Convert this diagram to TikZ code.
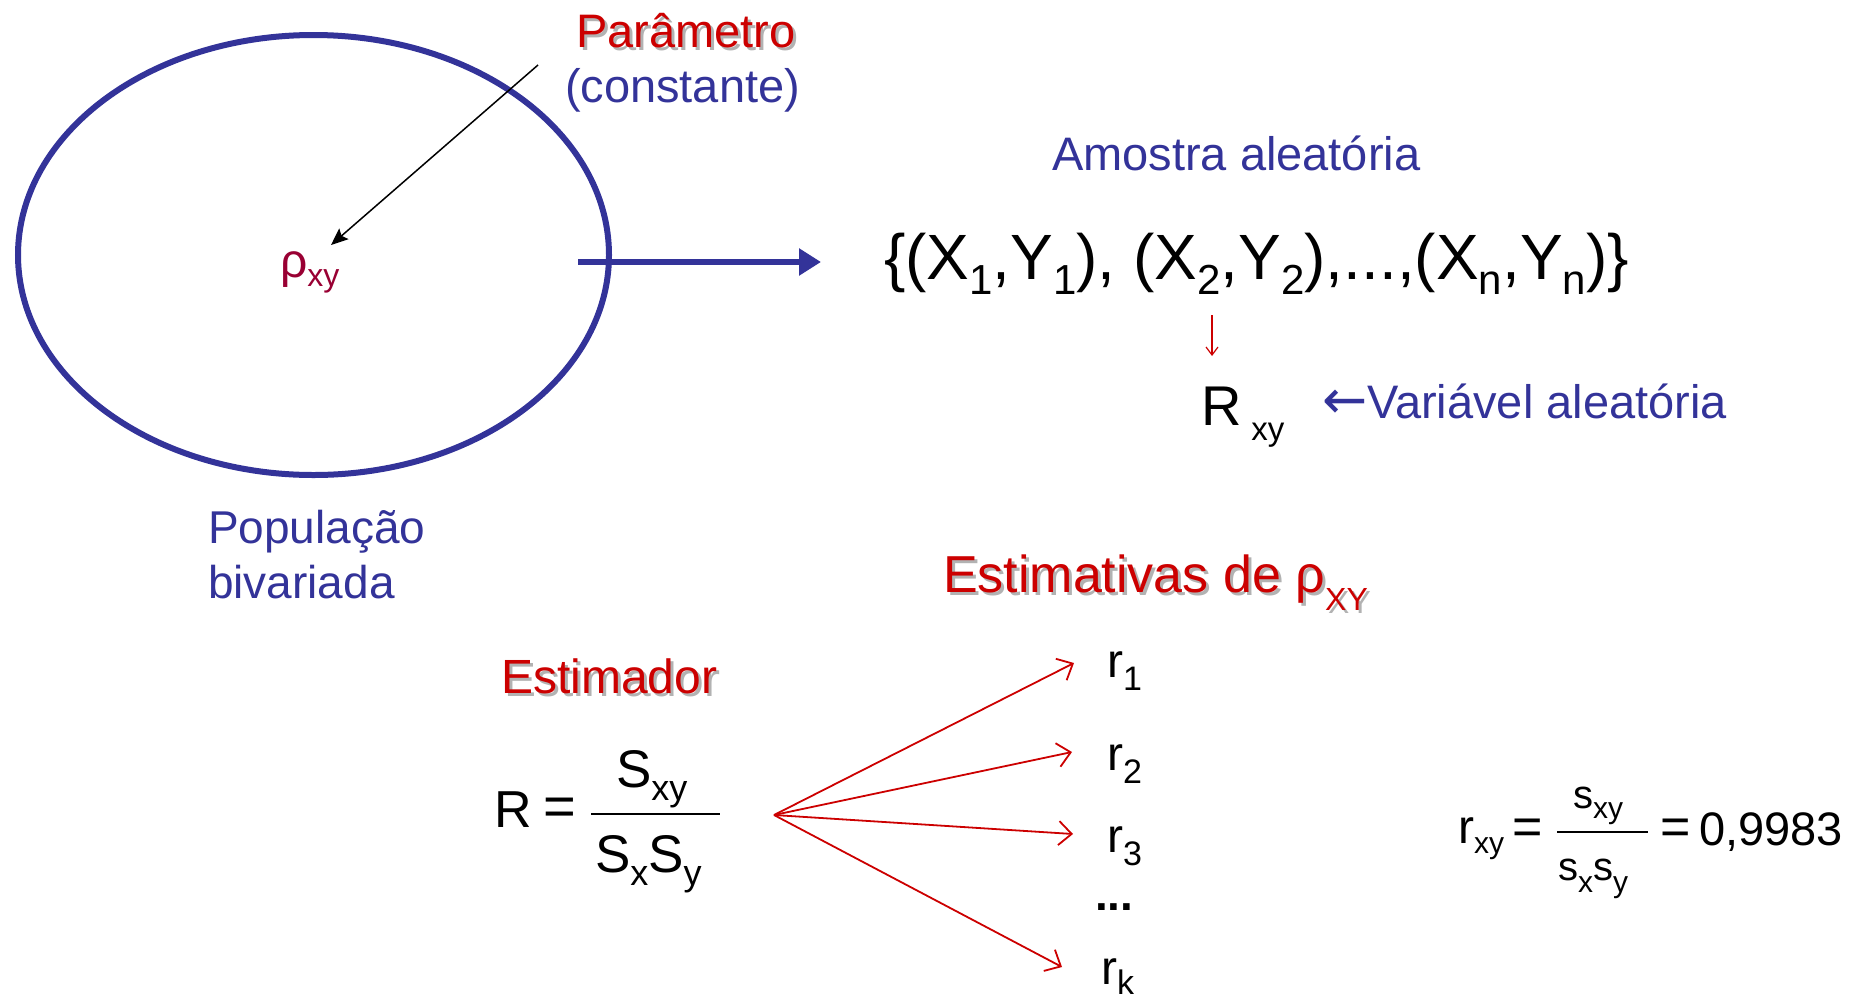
\documentclass[tikz,border=0pt]{standalone}
\usepackage{fontspec}
\setmainfont{Liberation Sans}
\newfontfamily\arrowfont{DejaVu Sans}
\usetikzlibrary{arrows.meta}
\definecolor{pblue}{HTML}{333399}
\definecolor{pred}{HTML}{CC0000}
\definecolor{pmaroon}{HTML}{990033}
\newcommand{\fs}[1]{\fontsize{#1}{#1}\selectfont}
\newcommand{\lsub}[3]{\raisebox{-#1pt}{\fs{#2}#3}}
\tikzset{
  txt/.style={inner sep=0pt, outer sep=0pt, anchor=base west},
  bl/.style={txt, text=pblue},
  rd/.style={txt, text=pred},
  bk/.style={txt, text=black},
  shd/.style={txt, text=black!30},
  redarrow/.style={draw=pred, line width=1.8pt, -{Straight Barb[length=13pt,width=24pt,line width=1.8pt]}},
}
\begin{document}
\begin{tikzpicture}[x=1pt,y=-1pt]
\useasboundingbox (0,0) rectangle (1854,999);
% population
\draw[pblue, line width=6pt] (313.5,255) ellipse [x radius=295.5, y radius=220];
\node[txt, text=pmaroon] (rho) at (280,277) {\fs{48}ρ\lsub{9}{32}{xy}};
\node[bl, align=left, font=\fontsize{46}{55}\selectfont] (pop) at (208,598) {População\\bivariada};
% parameter
\node[shd] (par-sh) at (579,50) {\fs{47}Parâmetro};
\node[rd] (par) at (576,47) {\fs{47}Parâmetro};
\node[bl] (const) at (565,102) {\fs{47}(constante)};
\coordinate (parstart) at (538,65);
\coordinate (rhotip) at (331,245);
\draw[line width=1.5pt, -{Stealth[length=17pt,width=14pt,inset=3pt]}] (parstart) -- (rhotip);
% blue arrow to sample
\coordinate (popexit) at (578,262);
\coordinate (sampin) at (821,262);
\draw[pblue, line width=6pt, -{Triangle[length=22pt,width=26pt]}] (popexit) -- (sampin);
% sample
\node[bl] (amostra) at (1052,170) {\fs{47}Amostra aleatória};
\node[bk] (set) at (884,279) {\fs{64}\{(X\lsub{15}{42}{1},Y\lsub{15}{42}{1}), (X\lsub{15}{42}{2},Y\lsub{15}{42}{2}),...,(X\lsub{15}{42}{n},Y\lsub{15}{42}{n})\}};
\coordinate (downtop) at (1212,315);
\coordinate (downbot) at (1212,356);
\draw[pred, line width=1.2pt, -{Straight Barb[length=8pt,width=12pt,line width=1.2pt]}] (downtop) -- (downbot);
\node[bk] (Rxy) at (1201,425) {\fs{56}R\hspace{10pt}\lsub{15}{33}{xy}};
\node[bl] (varal) at (1322,418) {{\arrowfont\fontsize{54}{54}\selectfont ←}\fs{47}Variável aleatória};
% estimates
\node[shd] (est-sh) at (946,595) {\fs{52}Estimativas de ρ\lsub{18}{32}{XY}};
\node[rd] (est) at (943,592) {\fs{52}Estimativas de ρ\lsub{18}{32}{XY}};
\node[shd] (estr-sh) at (504,696) {\fs{48}Estimador};
\node[rd] (estr) at (501,693) {\fs{48}Estimador};
% estimator formula
\node[bk] (R) at (494,827) {\fs{52}R};
\node[bk, anchor=center] (eqA) at (560,812) {\fs{56}=};
\coordinate (barAl) at (591,814);
\coordinate (barAr) at (720,814);
\draw[line width=2.5pt] (barAl) -- (barAr);
\node[bk] (numA) at (616,787) {\fs{53}S\lsub{13}{36}{xy}};
\node[bk] (denA) at (595,872) {\fs{53}S\lsub{13}{36}{x}S\lsub{13}{36}{y}};
% fan of arrows
\coordinate (fan) at (774,815);
\node[bk] (r1) at (1107,677) {\fs{48}r\lsub{13}{34}{1}};
\node[bk] (r2) at (1107,770) {\fs{48}r\lsub{13}{34}{2}};
\node[bk] (r3) at (1107,852) {\fs{48}r\lsub{13}{34}{3}};
\node[bk] (dots) at (1095,910) {\fs{46}\bfseries ...};
\node[bk] (rk) at (1101,984) {\fs{48}r\lsub{10}{34}{k}};
\coordinate (t1) at (1074,663);
\coordinate (t2) at (1072,752);
\coordinate (t3) at (1073,834);
\coordinate (tk) at (1062,967);
\draw[redarrow] (fan) -- (t1);
\draw[redarrow] (fan) -- (t2);
\draw[redarrow] (fan) -- (t3);
\draw[redarrow] (fan) -- (tk);
% sample formula
\node[bk] (rxy) at (1458,843) {\fs{48}r\lsub{10}{30}{xy}};
\node[bk, anchor=center] (eqB) at (1528,832) {\fs{52}=};
\coordinate (barBl) at (1557,832);
\coordinate (barBr) at (1648,832);
\draw[line width=1.6pt] (barBl) -- (barBr);
\node[bk] (numB) at (1573,808) {\fs{40}s\lsub{10}{30}{xy}};
\node[bk] (denB) at (1558,880) {\fs{40}s\lsub{12}{30}{x}s\lsub{12}{30}{y}};
\node[bk, anchor=center] (eqC) at (1676,832) {\fs{52}=};
\node[bk] (val) at (1699,845) {\fs{47}0,9983};
\end{tikzpicture}
\end{document}
